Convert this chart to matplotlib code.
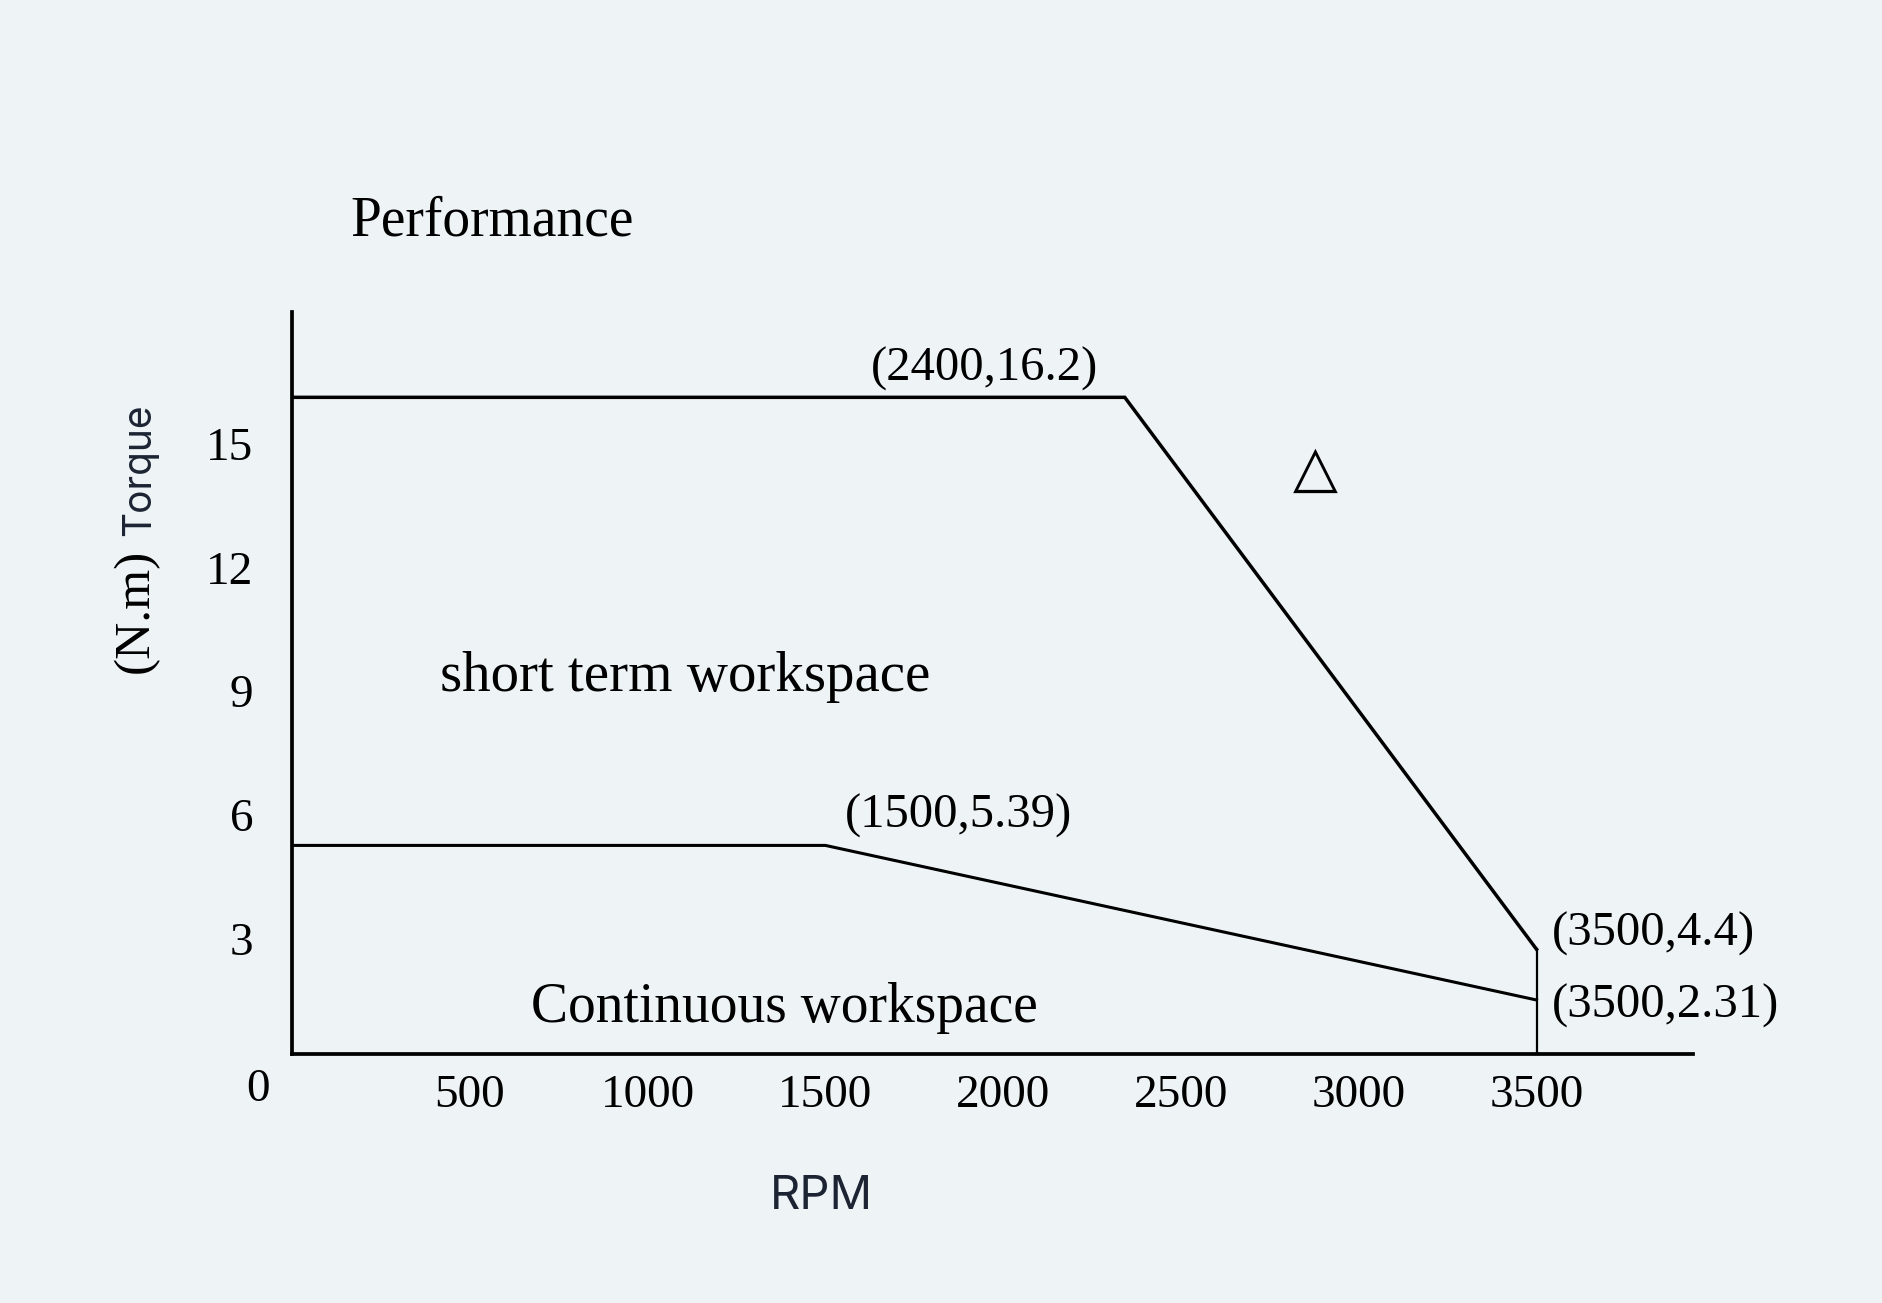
import matplotlib
matplotlib.use("Agg")
import matplotlib.pyplot as plt
from matplotlib.transforms import ScaledTranslation

# values (vertex positions as drawn) and their printed labels
short_rpm = [0, 2342, 3500]
short_torque = [15.93, 15.93, 2.54]
cont_rpm = [0, 1500, 3500]
cont_torque = [5.06, 5.06, 1.31]
limit_rpm = 3500

x_ticks = [500, 1000, 1500, 2000, 2500, 3000, 3500]
y_ticks = [3, 6, 9, 12, 15]

point_labels = ['(2400,16.2)', '(1500,5.39)', '(3500,4.4)', '(3500,2.31)']

bg = '#eef3f6'
serif = ['Liberation Serif', 'DejaVu Serif']
navy = '#1c2433'

fig = plt.figure(figsize=(18.83, 13.03), dpi=100, facecolor=bg)
W, H = 1883, 1303
ax = fig.add_axes([292 / W, 1 - 1054 / H, (1693 - 292) / W, (1054 - 312) / H])
ax.set_facecolor(bg)

ax.plot(short_rpm, short_torque, color='black', lw=2.5, solid_joinstyle='miter')
ax.plot(cont_rpm, cont_torque, color='black', lw=2.2, solid_joinstyle='miter')
ax.plot([limit_rpm, limit_rpm], [0, short_torque[-1]], color='black', lw=1.6)

ax.set_xlim(0, 3940)
ax.set_ylim(0, 18)
for s in ['top', 'right']:
    ax.spines[s].set_visible(False)
for s in ['left', 'bottom']:
    ax.spines[s].set_linewidth(2.7)
    ax.spines[s].set_color('black')

ax.set_xticks(x_ticks)
ax.set_xticklabels([str(v) for v in x_ticks], family=serif, fontsize=34)
ax.set_yticks(y_ticks)
ax.set_yticklabels([str(v) for v in y_ticks], family=serif, fontsize=34)
ax.tick_params(axis='x', length=0, pad=15)
ax.tick_params(axis='y', length=0, pad=28)
shift = ScaledTranslation(0, -0.08, fig.dpi_scale_trans)
for lab in ax.get_yticklabels():
    lab.set_transform(lab.get_transform() + shift)

ax.annotate('0', xy=(0, 0), xytext=(-34, -36), textcoords='offset pixels',
            ha='center', va='center', family=serif, fontsize=34)

# vertex labels
ann = dict(textcoords='offset pixels', family=serif, fontsize=35, va='center')
ax.annotate(point_labels[0], xy=(short_rpm[1], short_torque[1]), xytext=(-140, 28), ha='center', **ann)
ax.annotate(point_labels[1], xy=(cont_rpm[1], cont_torque[1]), xytext=(133, 30), ha='center', **ann)
ax.annotate(point_labels[2], xy=(short_rpm[2], short_torque[2]), xytext=(15, 15), ha='left', **ann)
ax.annotate(point_labels[3], xy=(cont_rpm[2], cont_torque[2]), xytext=(15, -6), ha='left', **ann)

# region labels
ax.text(1105, 9.15, 'short term workspace', ha='center', va='center', family=serif, fontsize=41)
ax.text(1386, 1.12, 'Continuous workspace', ha='center', va='center', family=serif, fontsize=40)
ax.text(2879, 14.19, '△', ha='center', va='center', family=['DejaVu Sans'], fontsize=42)

fig.text(492 / W, 1 - 222 / H, 'Performance', ha='center', va='center', family=serif, fontsize=40)
fig.text(821 / W, 1 - 1197 / H, 'RPM', ha='center', va='center', family=['Inter', 'DejaVu Sans'],
         fontsize=34, color=navy)
fig.text(136 / W, 1 - 611 / H, '(N.m)', ha='center', va='center', rotation=90, family=serif, fontsize=37)
fig.text(140 / W, 1 - 470 / H, 'Torque', ha='center', va='center', rotation=90,
         family=['Inter', 'DejaVu Sans'], fontsize=28, color=navy)

fig.savefig('out.png', dpi=100, facecolor=bg)
